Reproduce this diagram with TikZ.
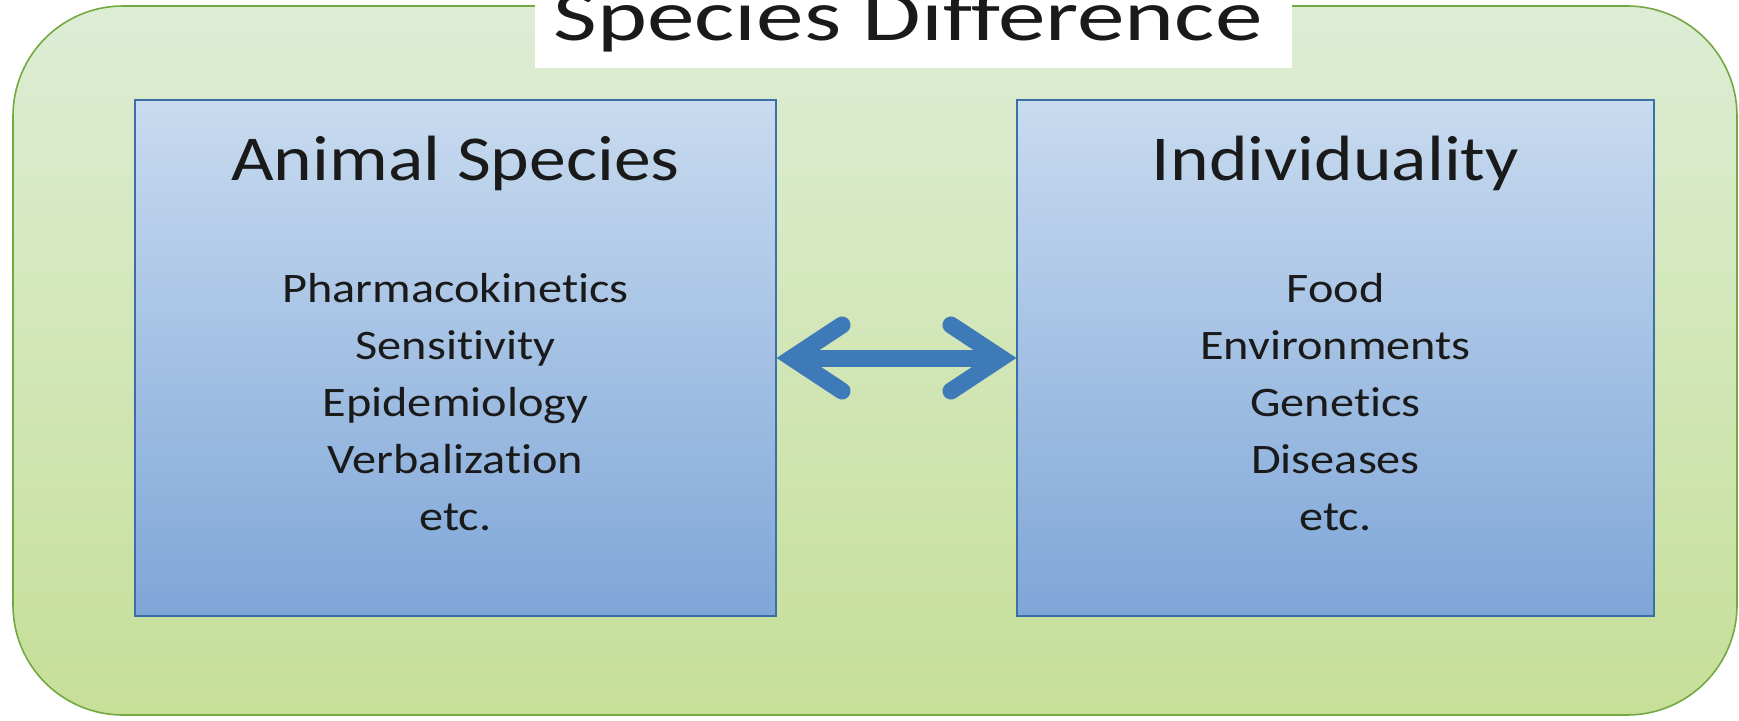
\documentclass[tikz,border=0pt]{standalone}
\usepackage{fontspec}
\setmainfont{Carlito}[Ligatures=NoCommon, FakeStretch=1.15]
\usetikzlibrary{positioning,arrows.meta}
\definecolor{frameTop}{HTML}{DDEDD5}
\definecolor{frameBot}{HTML}{C6DF98}
\definecolor{frameLine}{HTML}{74A843}
\definecolor{panelTop}{HTML}{C8DBEF}
\definecolor{panelBot}{HTML}{7FA6D8}
\definecolor{panelLine}{HTML}{3C6EA8}
\definecolor{arrowBlue}{HTML}{3E79B8}
\definecolor{inkDark}{HTML}{1A1A1A}

\begin{document}
\begin{tikzpicture}[x=1pt, y=-1pt,
  frame/.style={draw=frameLine, line width=1.6pt, rounded corners=110pt, top color=frameTop, bottom color=frameBot, minimum width=1724pt, minimum height=709pt, inner sep=0pt},
  titlebox/.style={fill=white, minimum width=757pt, minimum height=68pt, inner sep=0pt},
  panel/.style={draw=panelLine, line width=1.2pt, top color=panelTop, bottom color=panelBot, minimum height=516pt, inner sep=0pt},
  maintitle/.style={font=\fontsize{72}{80}\selectfont, text=inkDark, anchor=base},
  paneltitle/.style={font=\fontsize{64}{70}\selectfont, text=inkDark, anchor=base},
  panelitem/.style={font=\fontsize{42}{50}\selectfont, text=inkDark, anchor=base},
  barbtip/.tip={Straight Barb[length=50pt, width=66pt, line width=17pt, line cap=round]},
  linkarrow/.style={draw=arrowBlue, line width=17pt, {barbtip}-{barbtip}}]
\clip (0,0) rectangle (1739,720);
% outer frame and heading
\node[frame] (frame) at (875,360.5) {};
\node[titlebox] (headbox) at (913.5,34) {};
\node[maintitle] (head) at (908,40) {\scalebox{1.15}[1]{Species Difference}};
% the two panels
\node[panel, minimum width=641pt] (animal) at (455.5,358) {};
\node[panel, minimum width=637pt] (indiv) at (1335.5,358) {};
\node[paneltitle] (animalHead) at (455.5,180) {Animal Species};
\node[paneltitle] (indivHead) at (1335.5,180) {Individuality};
\foreach \item [count=\i] in {Pharmacokinetics,Sensitivity,Epidemiology,Verbalization,etc.}
  \node[panelitem] (animal-\i) at (455.5,{302+57*(\i-1)}) {\item};
\foreach \item [count=\i] in {Food,Environments,Genetics,Diseases,etc.}
  \node[panelitem] (indiv-\i) at (1335.5,{302+57*(\i-1)}) {\item};
% link between panels
\draw[linkarrow] (animal.east) -- (indiv.west);
\end{tikzpicture}
\end{document}
